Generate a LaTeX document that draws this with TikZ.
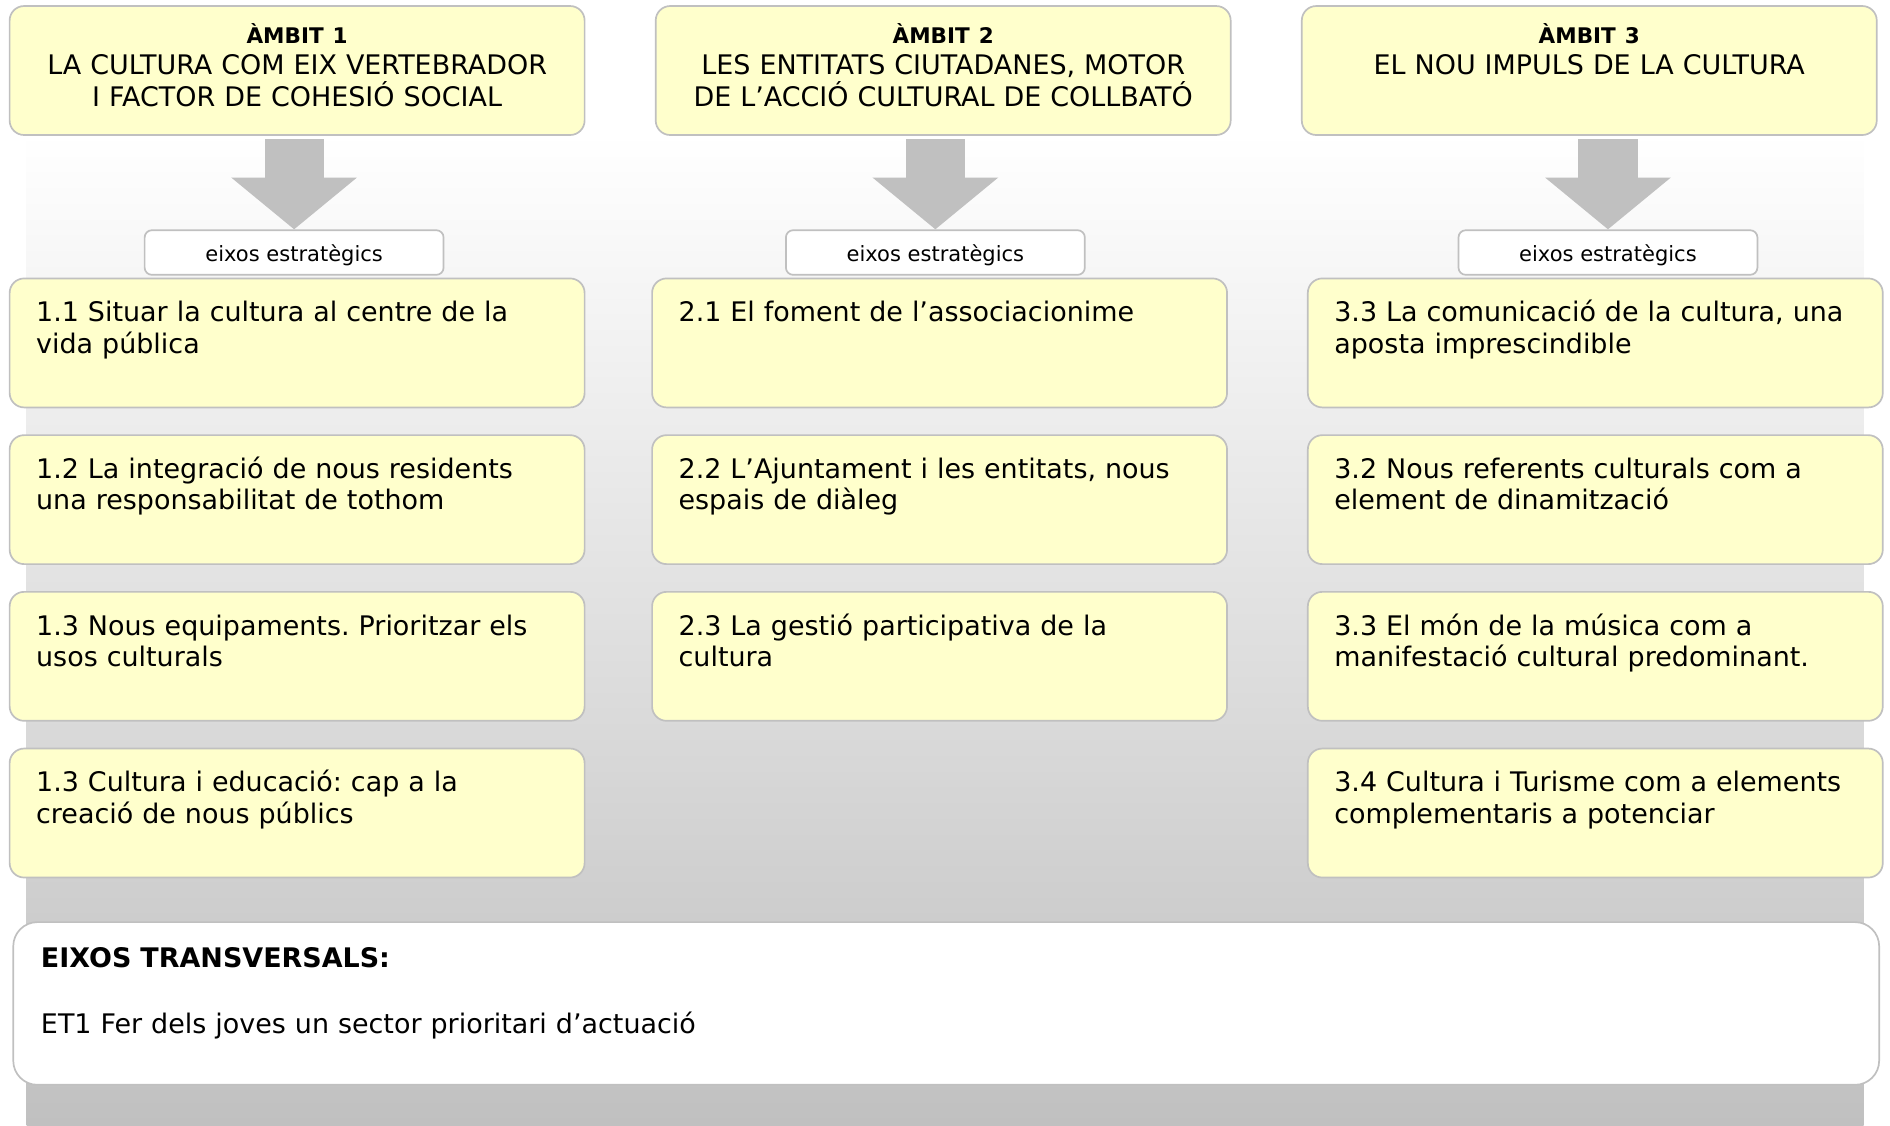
\documentclass[tikz,border=0pt]{standalone}
\usepackage{fontspec}
\setmainfont{DejaVu Sans}
\usetikzlibrary{positioning,arrows.meta}
\definecolor{groc}{HTML}{FFFFCC}
\definecolor{vora}{HTML}{C0C0C0}
\definecolor{fons}{HTML}{C0C0C0}
\frenchspacing
\begin{document}
\begin{tikzpicture}[node distance=0.54cm, every node/.style={rectangle, draw=vora, line width=1pt, rounded corners=0.3cm, inner ysep=0pt, font=\fontsize{15.9}{18.5}\selectfont}]
	\tikzstyle{ambit} = [fill=groc, text width=11.325cm, inner xsep=0.3cm, align=center, text height=0.775cm, text depth=1.9cm]
	\tikzstyle{eixos} = [fill=white, rounded corners=0.15cm, minimum width=6.2cm, inner xsep=0pt, text height=0.65cm, text depth=0.275cm, font=\fontsize{12.4}{14}\selectfont]
	\tikzstyle{linia} = [fill=groc, text width=10.825cm, inner xsep=0.55cm, align=left, text height=0.9cm, text depth=1.775cm]
	\tikzstyle{transversal} = [fill=white, rounded corners=0.5cm, text width=37.55cm, inner xsep=0.575cm, align=left, text height=0.95cm, text depth=2.425cm]
	\tikzstyle{fletxa} = [draw=fons, line width=1.225cm, -{Triangle[width=2.55cm 0, length=1.075cm 0]}, shorten <=0.075cm]
	
	\useasboundingbox (0,0) rectangle (39.2,-23.35);
	\shade[top color=white, bottom color=fons] (0.55,-2.75) rectangle (38.65,-23.35);
	
	\node[ambit] (ambit1) at (6.1625,-1.4625) {{\bfseries\fontsize{12.7}{18.5}\selectfont ÀMBIT 1}\\LA CULTURA COM EIX VERTEBRADOR\\I FACTOR DE COHESIÓ SOCIAL};
	\node[ambit] (ambit2) at (19.5625,-1.4625) {{\bfseries\fontsize{12.7}{18.5}\selectfont ÀMBIT 2}\\LES ENTITATS CIUTADANES, MOTOR\\DE L’ACCIÓ CULTURAL DE COLLBATÓ};
	\node[ambit] (ambit3) at (32.9625,-1.4625) {{\bfseries\fontsize{12.7}{18.5}\selectfont ÀMBIT 3}\\EL NOU IMPULS DE LA CULTURA};
	
	\node[eixos] (eixos1) at (6.1,-5.2375) {eixos estratègics};
	\node[eixos] (eixos2) at (19.4,-5.2375) {eixos estratègics};
	\node[eixos] (eixos3) at (33.35,-5.2375) {eixos estratègics};
	
	\node[linia] (l11) at (6.1625,-7.1125) {1.1 Situar la cultura al centre de la\\vida pública};
	\node[linia] (l12) [below=of l11] {1.2 La integració de nous residents\\una responsabilitat de tothom};
	\node[linia] (l13) [below=of l12] {1.3 Nous equipaments. Prioritzar els\\usos culturals};
	\node[linia] (l14) [below=of l13] {1.3 Cultura i educació: cap a la\\creació de nous públics};
	
	\node[linia] (l21) at (19.4875,-7.1125) {2.1 El foment de l’associacionime};
	\node[linia] (l22) [below=of l21] {2.2 L’Ajuntament i les entitats, nous\\espais de diàleg};
	\node[linia] (l23) [below=of l22] {2.3 La gestió participativa de la\\cultura};
	
	\node[linia] (l31) at (33.0875,-7.1125) {3.3 La comunicació de la cultura, una\\aposta imprescindible};
	\node[linia] (l32) [below=of l31] {3.2 Nous referents culturals com a\\element de dinamització};
	\node[linia] (l33) [below=of l32] {3.3 El món de la música com a\\manifestació cultural predominant.};
	\node[linia] (l34) [below=of l33] {3.4 Cultura i Turisme com a elements\\complementaris a potenciar};
	
	\node[transversal] (transv) at (19.625,-20.8125) {\textbf{EIXOS TRANSVERSALS:}\\[0.7cm]ET1 Fer dels joves un sector prioritari d’actuació};
	
	\draw[fletxa] (ambit1.south -| eixos1.north) -- (eixos1.north);
	\draw[fletxa] (ambit2.south -| eixos2.north) -- (eixos2.north);
	\draw[fletxa] (ambit3.south -| eixos3.north) -- (eixos3.north);
\end{tikzpicture}
\end{document}
